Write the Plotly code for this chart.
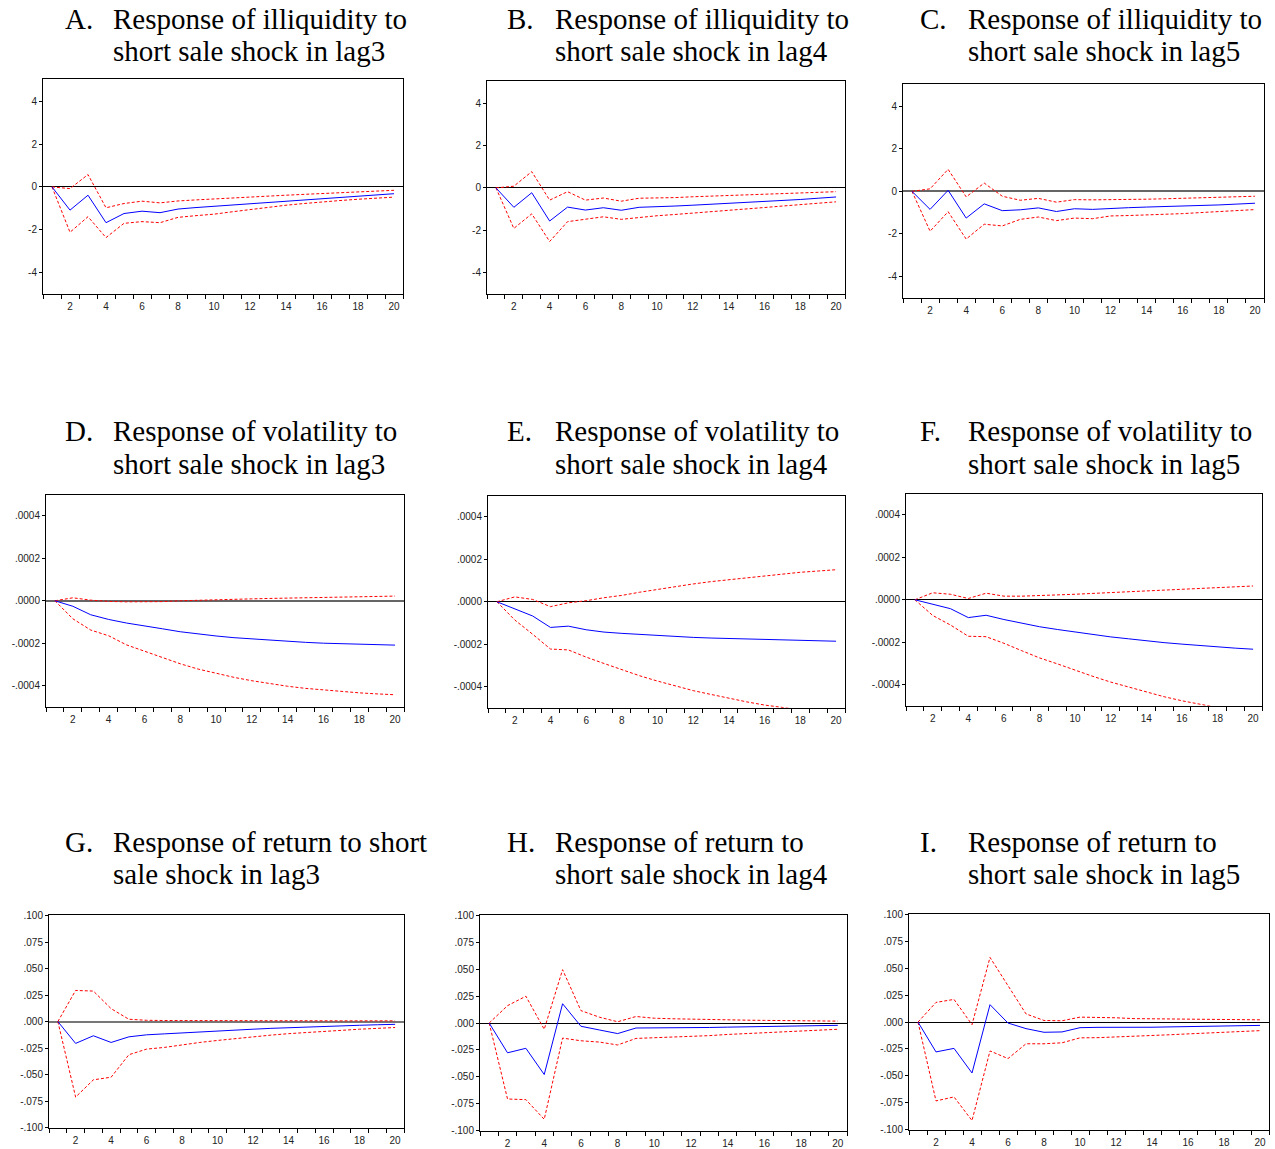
import plotly.graph_objects as go

periods = list(range(1, 21))

# ---- Row 1: illiquidity ----
A_irf = [0, -1.09, -0.39, -1.68, -1.25, -1.14, -1.21, -1.04, -0.97, -0.91, -0.85, -0.79, -0.73, -0.67, -0.61, -0.55, -0.49, -0.44, -0.38, -0.32]
A_up = [0, -0.08, 0.58, -0.98, -0.78, -0.67, -0.75, -0.66, -0.61, -0.56, -0.52, -0.47, -0.43, -0.39, -0.35, -0.31, -0.27, -0.23, -0.20, -0.16]
A_lo = [0, -2.13, -1.40, -2.38, -1.71, -1.63, -1.68, -1.43, -1.35, -1.28, -1.17, -1.06, -0.96, -0.86, -0.78, -0.70, -0.64, -0.58, -0.53, -0.48]

B_irf = [0, -0.92, -0.23, -1.57, -0.91, -1.05, -0.94, -1.06, -0.92, -0.90, -0.86, -0.82, -0.78, -0.73, -0.68, -0.63, -0.59, -0.55, -0.49, -0.43]
B_up = [0, 0.08, 0.77, -0.58, -0.18, -0.58, -0.48, -0.63, -0.49, -0.49, -0.46, -0.42, -0.39, -0.36, -0.33, -0.31, -0.27, -0.24, -0.21, -0.18]
B_lo = [0, -1.92, -1.23, -2.54, -1.60, -1.49, -1.37, -1.49, -1.40, -1.32, -1.26, -1.20, -1.13, -1.06, -1.00, -0.93, -0.86, -0.80, -0.73, -0.66]

C_irf = [0, -0.85, 0.05, -1.26, -0.59, -0.91, -0.87, -0.78, -0.95, -0.82, -0.85, -0.80, -0.77, -0.74, -0.72, -0.70, -0.67, -0.64, -0.60, -0.56]
C_up = [0, 0.12, 1.04, -0.26, 0.39, -0.23, -0.42, -0.33, -0.51, -0.39, -0.40, -0.40, -0.39, -0.37, -0.35, -0.33, -0.31, -0.29, -0.26, -0.23]
C_lo = [0, -1.88, -0.96, -2.25, -1.55, -1.63, -1.32, -1.21, -1.38, -1.26, -1.29, -1.16, -1.14, -1.12, -1.09, -1.05, -1.00, -0.95, -0.90, -0.86]

# ---- Row 2: volatility ----
D_irf = [0, -0.000026, -0.000066, -0.000088, -0.000105, -0.000117, -0.000132, -0.000146, -0.000157, -0.000166, -0.000174, -0.000180, -0.000186, -0.000192, -0.000196, -0.000200, -0.000203, -0.000205, -0.000207, -0.000209]
D_up = [0, 0.000014, 0.000003, -0.000003, -0.000005, -0.000005, -0.000004, 0.000000, 0.000003, 0.000005, 0.000007, 0.000009, 0.000011, 0.000013, 0.000014, 0.000016, 0.000017, 0.000019, 0.000020, 0.000022]
D_lo = [0, -0.000085, -0.000138, -0.000165, -0.000208, -0.000238, -0.000269, -0.000297, -0.000322, -0.000343, -0.000361, -0.000377, -0.000391, -0.000403, -0.000413, -0.000421, -0.000428, -0.000434, -0.000439, -0.000443]

E_irf = [0, -0.000033, -0.000067, -0.000121, -0.000115, -0.000132, -0.000143, -0.000149, -0.000154, -0.000160, -0.000164, -0.000168, -0.000171, -0.000173, -0.000175, -0.000177, -0.000179, -0.000181, -0.000183, -0.000186]
E_up = [0, 0.000023, 0.000011, -0.000023, -0.000005, 0.000005, 0.000019, 0.000030, 0.000045, 0.000059, 0.000073, 0.000084, 0.000095, 0.000104, 0.000114, 0.000123, 0.000131, 0.000139, 0.000145, 0.000151]
E_lo = [0, -0.000086, -0.000153, -0.000223, -0.000227, -0.000261, -0.000291, -0.000321, -0.000349, -0.000374, -0.000397, -0.000419, -0.000437, -0.000456, -0.000472, -0.000487, -0.000499, -0.000511, -0.000522, -0.000532]

F_irf = [0, -0.000020, -0.000042, -0.000084, -0.000073, -0.000093, -0.000110, -0.000127, -0.000140, -0.000152, -0.000164, -0.000175, -0.000184, -0.000194, -0.000202, -0.000209, -0.000216, -0.000222, -0.000228, -0.000233]
F_up = [0, 0.000033, 0.000026, 0.000006, 0.000031, 0.000017, 0.000017, 0.000019, 0.000023, 0.000026, 0.000030, 0.000034, 0.000038, 0.000042, 0.000046, 0.000050, 0.000054, 0.000058, 0.000062, 0.000065]
F_lo = [0, -0.000074, -0.000119, -0.000172, -0.000174, -0.000205, -0.000240, -0.000274, -0.000302, -0.000333, -0.000361, -0.000388, -0.000412, -0.000436, -0.000457, -0.000476, -0.000493, -0.000508, -0.000522, -0.000536]

# ---- Row 3: return ----
G_irf = [0, -0.0206, -0.0134, -0.0197, -0.0144, -0.0125, -0.0116, -0.0106, -0.0097, -0.0088, -0.0080, -0.0072, -0.0064, -0.0057, -0.0051, -0.0045, -0.0040, -0.0035, -0.0030, -0.0026]
G_up = [0, 0.0294, 0.0288, 0.0122, 0.0022, 0.0012, 0.0010, 0.0009, 0.0009, 0.0008, 0.0008, 0.0008, 0.0008, 0.0008, 0.0008, 0.0007, 0.0007, 0.0007, 0.0007, 0.0007]
G_lo = [0, -0.0713, -0.0550, -0.0525, -0.0313, -0.0260, -0.0244, -0.0219, -0.0197, -0.0178, -0.0160, -0.0143, -0.0128, -0.0114, -0.0102, -0.0091, -0.0081, -0.0072, -0.0064, -0.0056]

H_irf = [0, -0.0277, -0.0235, -0.0479, 0.0180, -0.0030, -0.0064, -0.0098, -0.0046, -0.0046, -0.0046, -0.0044, -0.0041, -0.0038, -0.0035, -0.0032, -0.0029, -0.0026, -0.0024, -0.0021]
H_up = [0, 0.0162, 0.0250, -0.0058, 0.0497, 0.0116, 0.0055, 0.0012, 0.0061, 0.0045, 0.0040, 0.0035, 0.0031, 0.0029, 0.0027, 0.0025, 0.0023, 0.0021, 0.0019, 0.0018]
H_lo = [0, -0.0707, -0.0713, -0.0896, -0.0140, -0.0165, -0.0177, -0.0204, -0.0143, -0.0138, -0.0133, -0.0127, -0.0117, -0.0106, -0.0099, -0.0092, -0.0085, -0.0078, -0.0068, -0.0058]

I_irf = [0, -0.0278, -0.0245, -0.0474, 0.0162, -0.0009, -0.0061, -0.0095, -0.0092, -0.0052, -0.0049, -0.0050, -0.0050, -0.0048, -0.0045, -0.0042, -0.0040, -0.0037, -0.0035, -0.0031]
I_up = [0, 0.0183, 0.0211, -0.0024, 0.0602, 0.0343, 0.0076, 0.0015, 0.0012, 0.0046, 0.0046, 0.0040, 0.0032, 0.0030, 0.0030, 0.0030, 0.0028, 0.0026, 0.0024, 0.0021]
I_lo = [0, -0.0734, -0.0697, -0.0917, -0.0269, -0.0340, -0.0202, -0.0202, -0.0193, -0.0147, -0.0145, -0.0140, -0.0133, -0.0126, -0.0118, -0.0110, -0.0102, -0.0095, -0.0088, -0.0080]

panel_letters = ["A.", "B.", "C.", "D.", "E.", "F.", "G.", "H.", "I."]
title_line1 = ["Response of illiquidity to", "Response of illiquidity to", "Response of illiquidity to",
               "Response of volatility to", "Response of volatility to", "Response of volatility to",
               "Response of return to short", "Response of return to", "Response of return to"]
title_line2 = ["short sale shock in lag3", "short sale shock in lag4", "short sale shock in lag5",
               "short sale shock in lag3", "short sale shock in lag4", "short sale shock in lag5",
               "sale shock in lag3", "short sale shock in lag4", "short sale shock in lag5"]

x_tickvals = [2, 4, 6, 8, 10, 12, 14, 16, 18, 20]
x_ticktext = ["2", "4", "6", "8", "10", "12", "14", "16", "18", "20"]

row_yvals = [
    [4, 2, 0, -2, -4],
    [0.0004, 0.0002, 0.0, -0.0002, -0.0004],
    [0.1, 0.075, 0.05, 0.025, 0.0, -0.025, -0.05, -0.075, -0.1],
]
row_ytext = [
    ["4", "2", "0", "-2", "-4"],
    [".0004", ".0002", ".0000", "-.0002", "-.0004"],
    [".100", ".075", ".050", ".025", ".000", "-.025", "-.050", "-.075", "-.100"],
]
row_yrange = [[-5.05, 5.05], [-0.0005, 0.0005], [-0.1006, 0.1006]]

panels = [
    (A_irf, A_up, A_lo), (B_irf, B_up, B_lo), (C_irf, C_up, C_lo),
    (D_irf, D_up, D_lo), (E_irf, E_up, E_lo), (F_irf, F_up, F_lo),
    (G_irf, G_up, G_lo), (H_irf, H_up, H_lo), (I_irf, I_up, I_lo),
]

W, H = 1275, 1149
# plot boxes in pixels: (left, right, top, bottom)
boxes = [
    (43, 403, 75, 292), (487, 845, 77, 292), (903, 1264, 80, 296),
    (46, 404, 494, 708), (488, 845, 495, 709), (906, 1262, 493, 707),
    (49, 404, 918, 1133), (480, 847, 918, 1136), (909, 1269, 917, 1135),
]
zero_styles = [("black", 1), ("black", 1), ("#666", 1.6),
               ("#666", 1.6), ("black", 1), ("black", 1),
               ("#777", 2), ("black", 1), ("black", 1)]
letter_x = [63, 505, 918]
text_x = [111, 553, 966]
baselines = [(30, 62), (446, 479), (860, 893)]
TSIZE = 29

fig = go.Figure()
layout = dict(
    width=W, height=H, margin=dict(l=0, r=0, t=0, b=0),
    paper_bgcolor="white", plot_bgcolor="white", showlegend=False,
    font=dict(family="Liberation Sans, Arial, sans-serif", size=10, color="#222"),
)
annotations = []
tfont = dict(family="Liberation Serif, Times New Roman, serif", size=TSIZE, color="black")

for i, (irf, up, lo) in enumerate(panels):
    row = i // 3
    col = i % 3
    xa = "x" if i == 0 else f"x{i+1}"
    ya = "y" if i == 0 else f"y{i+1}"
    for series, color, dash in [(up, "red", "3px,2px"), (lo, "red", "3px,2px"), (irf, "blue", "solid")]:
        fig.add_trace(go.Scatter(x=periods, y=series, mode="lines", xaxis=xa, yaxis=ya,
                                 line=dict(color=color, width=1, dash=dash), hoverinfo="skip"))
    l, r, t, b = boxes[i]
    xkey = "xaxis" if i == 0 else f"xaxis{i+1}"
    ykey = "yaxis" if i == 0 else f"yaxis{i+1}"
    zc, zw = zero_styles[i]
    layout[xkey] = dict(
        domain=[l / W, r / W], anchor=ya, range=[0.5, 20.5],
        tickmode="array", tickvals=x_tickvals, ticktext=x_ticktext,
        ticks="outside", ticklen=3, tickcolor="rgba(0,0,0,0)",
        minor=dict(tick0=0.5, dtick=1, ticks="outside", ticklen=4, tickcolor="black", tickwidth=1),
        showline=True, linecolor="black", linewidth=1, mirror=True,
        showgrid=False, zeroline=False, tickfont=dict(size=10, color="#222"),
    )
    layout[ykey] = dict(
        domain=[1 - b / H, 1 - t / H], anchor=xa, range=row_yrange[row],
        tickmode="array", tickvals=row_yvals[row], ticktext=row_ytext[row],
        ticks="outside", ticklen=3, tickcolor="black", tickwidth=1,
        showline=True, linecolor="black", linewidth=1, mirror=True,
        showgrid=False, zeroline=True, zerolinecolor=zc, zerolinewidth=zw,
        tickfont=dict(size=10, color="#222"),
    )
    b1, b2 = baselines[row]
    desc = 0.216 * TSIZE - 4
    annotations.append(dict(text=panel_letters[i], x=letter_x[col] / W, y=1 - (b1 + desc) / H,
                            xref="paper", yref="paper", xanchor="left", yanchor="bottom",
                            showarrow=False, font=tfont))
    annotations.append(dict(text=title_line1[i], x=text_x[col] / W, y=1 - (b1 + desc) / H,
                            xref="paper", yref="paper", xanchor="left", yanchor="bottom",
                            showarrow=False, font=tfont))
    annotations.append(dict(text=title_line2[i], x=text_x[col] / W, y=1 - (b2 + desc) / H,
                            xref="paper", yref="paper", xanchor="left", yanchor="bottom",
                            showarrow=False, font=tfont))

layout["annotations"] = annotations
fig.update_layout(**layout)
fig.write_html("out.html", config={"displayModeBar": False},
               post_script="document.body.style.margin='0';document.body.style.padding='0';document.body.style.overflow='hidden';")
